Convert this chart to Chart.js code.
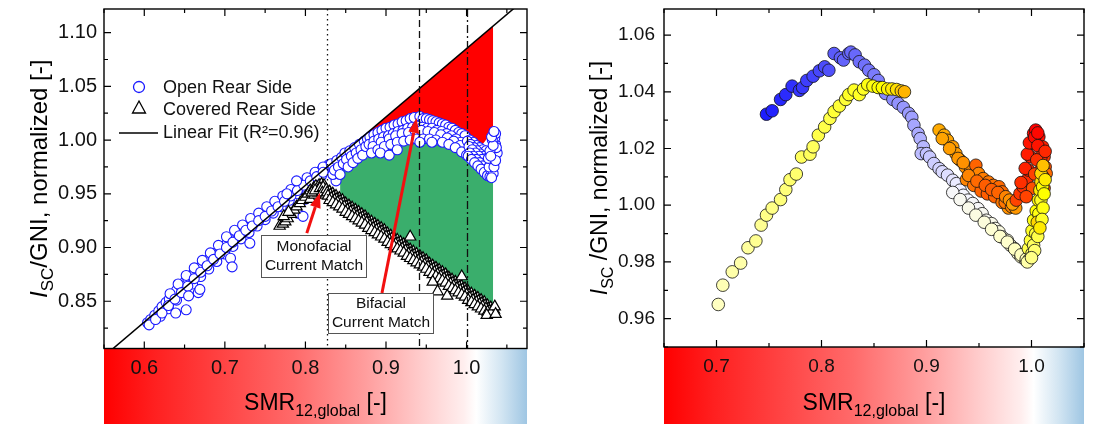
<!DOCTYPE html>
<html>
<head>
<meta charset="utf-8">
<script src="https://cdn.jsdelivr.net/npm/chart.js@4.4.1/dist/chart.umd.min.js"></script>
<style>
  html, body { margin: 0; padding: 0; background: #fff; }
  #wrap { position: relative; width: 1094px; height: 424px; }
  #c1 { position: absolute; left: 0; top: 0; }
  #c2 { position: absolute; left: 547px; top: 0; }
</style>
</head>
<body>
<div id="wrap">
  <canvas id="c1" width="547" height="424"></canvas>
  <canvas id="c2" width="547" height="424"></canvas>
</div>
<script>
// ---- left panel data ----
const leftXTicks = [0.6, 0.7, 0.8, 0.9, 1.0];
const leftYTicks = [0.85, 0.90, 0.95, 1.00, 1.05, 1.10];

const openRear = [
  [0.604,0.830],[0.608,0.833],[0.613,0.837],[0.618,0.841],[0.622,0.845],[0.627,0.849],[0.631,0.852],[0.636,0.856],
  [0.640,0.860],[0.645,0.864],[0.649,0.867],[0.654,0.871],[0.658,0.874],[0.662,0.877],[0.667,0.880],[0.671,0.883],
  [0.676,0.886],[0.680,0.889],[0.685,0.892],[0.689,0.895],[0.694,0.898],[0.698,0.901],[0.703,0.904],[0.707,0.907],
  [0.712,0.910],[0.716,0.912],[0.721,0.915],[0.725,0.918],[0.730,0.921],[0.734,0.923],[0.739,0.926],[0.743,0.928],
  [0.748,0.931],[0.752,0.933],[0.757,0.936],[0.761,0.939],[0.766,0.941],[0.770,0.944],[0.775,0.946],[0.779,0.949],
  [0.784,0.952],[0.788,0.954],[0.793,0.957],[0.797,0.959],[0.802,0.962],[0.806,0.964],[0.811,0.967],[0.815,0.969],
  [0.820,0.972],[0.824,0.974],[0.829,0.977],
  [0.620,0.836],[0.630,0.843],[0.640,0.851],[0.650,0.858],[0.660,0.866],[0.670,0.873],[0.680,0.880],[0.690,0.887],
  [0.700,0.894],[0.710,0.901],[0.720,0.908],[0.730,0.914],[0.740,0.920],[0.750,0.926],[0.760,0.932],[0.770,0.938],
  [0.780,0.944],[0.790,0.950],[0.800,0.956],[0.810,0.961],[0.820,0.967],
  [0.632,0.857],[0.642,0.866],[0.652,0.874],[0.662,0.881],[0.672,0.888],[0.682,0.895],[0.692,0.902],[0.702,0.910],
  [0.712,0.916],[0.722,0.921],[0.732,0.927],[0.742,0.932],[0.752,0.938],[0.762,0.943],[0.772,0.948],[0.782,0.954],
  [0.792,0.960],[0.802,0.965],[0.812,0.970],[0.822,0.975],
  [0.606,0.828],[0.614,0.833],[0.622,0.839],[0.630,0.846],[0.638,0.852],[0.646,0.858],[0.654,0.864],[0.662,0.871],
  [0.670,0.877],[0.678,0.883],[0.686,0.889],[0.694,0.894],[0.702,0.900],[0.710,0.905],[0.718,0.911],[0.726,0.916],
  [0.734,0.920],[0.742,0.925],[0.750,0.929],[0.758,0.934],[0.766,0.938],[0.774,0.943],[0.782,0.948],[0.790,0.953],
  [0.798,0.958],[0.806,0.962],[0.814,0.966],[0.822,0.970],
  [0.639,0.839],[0.652,0.842],[0.655,0.855],[0.667,0.858],[0.669,0.861],[0.707,0.890],[0.709,0.882],[0.731,0.904],
  [0.777,0.950],[0.789,0.962],[0.790,0.932],[0.797,0.929],[0.838,0.962],[0.815,0.958],[0.800,0.945],
  [0.832,0.978],[0.834,0.968],[0.836,0.972],[0.839,0.981],[0.841,0.975],[0.843,0.968],[0.845,0.984],[0.847,0.978],
  [0.849,0.988],[0.851,0.982],[0.853,0.975],[0.855,0.990],[0.857,0.985],[0.859,0.979],[0.861,0.993],[0.863,0.988],
  [0.865,0.983],[0.867,0.996],[0.869,0.991],[0.871,0.986],[0.873,0.999],[0.875,0.994],
  [0.877,1.001],[0.882,1.003],[0.887,1.005],[0.892,1.007],[0.897,1.008],[0.902,1.010],[0.907,1.012],[0.912,1.013],
  [0.917,1.014],[0.922,1.016],[0.927,1.017],[0.932,1.019],[0.937,1.020],[0.940,1.021],[0.944,1.018],[0.948,1.018],
  [0.952,1.017],[0.956,1.017],[0.960,1.016],[0.964,1.015],[0.968,1.014],[0.972,1.013],[0.976,1.011],[0.980,1.010],
  [0.984,1.008],[0.988,1.006],[0.992,1.005],[0.996,1.004],[1.000,1.002],
  [0.880,1.003],[0.885,1.005],[0.890,1.007],[0.895,1.009],[0.900,1.011],[0.905,1.012],[0.910,1.014],[0.915,1.015],
  [0.920,1.017],[0.925,1.018],[0.930,1.020],[0.935,1.021],[0.942,1.022],[0.946,1.020],[0.950,1.020],[0.954,1.019],
  [0.958,1.018],[0.962,1.017],[0.966,1.016],[0.970,1.015],[0.974,1.014],[0.978,1.012],[0.982,1.011],[0.986,1.009],
  [0.990,1.007],[0.994,1.006],[0.998,1.004],
  [0.879,0.996],[0.885,0.999],[0.891,1.001],[0.897,1.003],[0.903,1.004],[0.909,1.006],[0.915,1.008],[0.921,1.009],
  [0.927,1.011],[0.933,1.012],[0.939,1.013],[0.945,1.012],[0.951,1.011],[0.957,1.011],[0.963,1.009],[0.969,1.008],
  [0.975,1.006],[0.981,1.004],[0.987,1.001],[0.993,0.998],[0.999,0.995],
  [0.884,0.994],[0.894,0.998],[0.904,1.001],[0.912,1.004],[0.920,1.006],[0.928,1.007],[0.936,1.009],[0.944,1.009],
  [0.952,1.008],[0.960,1.007],[0.968,1.005],[0.976,1.002],[0.984,0.999],[0.992,0.995],
  [0.882,0.988],[0.890,0.991],[0.898,0.994],[0.906,0.996],[0.914,0.998],[0.922,0.999],[0.930,1.000],[0.938,1.001],
  [0.946,1.001],[0.954,1.001],[0.962,1.000],[0.970,0.998],[0.978,0.996],[0.986,0.993],[0.994,0.989],[1.000,0.986],
  [0.893,0.988],[0.904,0.986],[0.914,0.991],[0.942,0.998],[0.957,0.998],
  [1.004,1.000],[1.008,0.998],[1.012,0.995],[1.016,0.993],[1.020,0.991],[1.024,0.990],
  [1.001,0.999],[1.005,0.996],[1.009,0.993],[1.013,0.990],[1.017,0.987],[1.021,0.985],[1.025,0.983],
  [1.003,0.994],[1.007,0.991],[1.011,0.988],[1.015,0.985],[1.019,0.982],[1.023,0.979],
  [1.004,0.988],[1.008,0.985],[1.012,0.982],[1.016,0.979],[1.020,0.976],[1.024,0.973],[1.028,0.970],
  [1.002,0.985],[1.006,0.982],[1.010,0.979],[1.014,0.976],[1.018,0.973],[1.022,0.970],[1.026,0.967],[1.029,0.966],
  [1.030,0.972],[1.032,0.978],[1.034,0.984],[1.035,0.990],[1.036,0.996],[1.035,1.002],[1.036,1.006],[1.033,0.969],
  [1.031,0.965],[1.038,0.988],[1.037,0.993],[1.032,1.000],[1.028,0.975],[1.027,0.983],[1.029,0.990],
  [1.034,0.975],[1.036,0.981],[1.033,0.995],[1.031,1.003],[1.034,1.008],[1.030,0.985]
];

const coveredRear = [
  [0.768,0.920],[0.772,0.922],[0.775,0.924],[0.778,0.927],[0.782,0.931],[0.786,0.935],[0.789,0.938],[0.793,0.941],
  [0.796,0.944],[0.800,0.947],[0.803,0.950],[0.806,0.953],[0.810,0.955],[0.813,0.957],[0.817,0.958],[0.820,0.959],
  [0.823,0.958],[0.773,0.929],[0.779,0.933],[0.806,0.945],[0.811,0.949],[0.816,0.951],
  [0.808,0.951],[0.812,0.953],[0.818,0.955],[0.822,0.956],[0.821,0.951],[0.825,0.949],
  [0.826,0.954],[0.830,0.952],[0.834,0.950],[0.838,0.948],[0.842,0.946],[0.846,0.944],[0.850,0.941],[0.854,0.939],
  [0.858,0.937],[0.862,0.935],[0.866,0.933],[0.870,0.931],[0.874,0.929],[0.878,0.926],[0.882,0.924],[0.886,0.922],
  [0.890,0.920],[0.894,0.918],[0.898,0.916],[0.902,0.913],[0.906,0.911],[0.910,0.909],[0.914,0.907],[0.918,0.905],
  [0.922,0.903],[0.926,0.900],[0.930,0.898],[0.934,0.896],[0.938,0.894],[0.942,0.892],[0.946,0.890],[0.950,0.888],
  [0.954,0.885],[0.958,0.883],[0.962,0.881],[0.966,0.879],[0.970,0.877],[0.974,0.875],[0.978,0.872],[0.982,0.870],
  [0.986,0.868],[0.990,0.866],[0.994,0.864],[0.998,0.862],[1.002,0.859],[1.006,0.857],[1.010,0.855],[1.014,0.853],
  [1.018,0.851],[1.022,0.849],[1.026,0.846],[1.030,0.844],[1.034,0.842],
  [0.827,0.951],[0.831,0.949],[0.835,0.947],[0.839,0.945],[0.843,0.943],[0.847,0.941],[0.851,0.938],[0.855,0.936],
  [0.859,0.934],[0.863,0.932],[0.867,0.930],[0.871,0.928],[0.875,0.926],[0.879,0.923],[0.883,0.921],[0.887,0.919],
  [0.891,0.917],[0.895,0.915],[0.899,0.913],[0.903,0.910],[0.907,0.908],[0.911,0.906],[0.915,0.904],[0.919,0.902],
  [0.923,0.900],[0.927,0.897],[0.931,0.895],[0.935,0.893],[0.939,0.891],[0.943,0.889],[0.947,0.887],[0.951,0.885],
  [0.955,0.882],[0.959,0.880],[0.963,0.878],[0.967,0.876],[0.971,0.874],[0.975,0.872],[0.979,0.869],[0.983,0.867],
  [0.987,0.865],[0.991,0.863],[0.995,0.861],[0.999,0.859],[1.003,0.856],[1.007,0.854],[1.011,0.852],[1.015,0.850],
  [1.019,0.848],[1.023,0.846],[1.027,0.843],[1.031,0.841],
  [0.828,0.948],[0.832,0.946],[0.836,0.944],[0.840,0.942],[0.844,0.940],[0.848,0.938],[0.852,0.935],[0.856,0.933],
  [0.860,0.931],[0.864,0.929],[0.868,0.927],[0.872,0.925],[0.876,0.923],[0.880,0.920],[0.884,0.918],[0.888,0.916],
  [0.892,0.914],[0.896,0.912],[0.900,0.910],[0.904,0.907],[0.908,0.905],[0.912,0.903],[0.916,0.901],[0.920,0.899],
  [0.924,0.897],[0.928,0.894],[0.932,0.892],[0.936,0.890],[0.940,0.888],[0.944,0.886],[0.948,0.884],[0.952,0.882],
  [0.956,0.879],[0.960,0.877],[0.964,0.875],[0.968,0.873],[0.972,0.871],[0.976,0.869],[0.980,0.866],[0.984,0.864],
  [0.988,0.862],[0.992,0.860],[0.996,0.858],[1.000,0.856],[1.004,0.853],[1.008,0.851],[1.012,0.849],[1.016,0.847],
  [1.020,0.845],[1.024,0.843],[1.028,0.841],[1.032,0.839],
  [0.830,0.944],[0.834,0.942],[0.838,0.940],[0.842,0.938],[0.846,0.936],[0.850,0.933],[0.854,0.931],[0.858,0.929],
  [0.862,0.927],[0.866,0.925],[0.870,0.923],[0.874,0.921],[0.878,0.918],[0.882,0.916],[0.886,0.914],[0.890,0.912],
  [0.894,0.910],[0.898,0.908],[0.902,0.905],[0.906,0.903],[0.910,0.901],[0.914,0.899],[0.918,0.897],[0.922,0.895],
  [0.926,0.892],[0.930,0.890],[0.934,0.888],[0.938,0.886],[0.942,0.884],[0.946,0.882],[0.950,0.880],[0.954,0.877],
  [0.958,0.875],[0.962,0.873],[0.966,0.871],[0.970,0.869],[0.974,0.867],[0.978,0.864],[0.982,0.862],[0.986,0.860],
  [0.990,0.858],[0.994,0.856],[0.998,0.854],[1.002,0.851],[1.006,0.849],[1.010,0.847],[1.014,0.845],[1.018,0.843],
  [1.022,0.841],[1.026,0.840],[1.030,0.839],
  [0.930,0.910],[0.958,0.868],[0.964,0.859],[0.976,0.855],[0.994,0.873],[1.025,0.837],[1.035,0.845],[1.036,0.838]
];

const fitLine = [[0.55, 0.7988], [1.075, 1.1329]];

// boundaries of the shaded regions
const redX = [0.872, 0.89, 0.91, 0.93, 0.94, 0.95, 0.97, 0.99, 1.00, 1.01, 1.02, 1.028, 1.033];
const redLow = [1.004, 1.010, 1.016, 1.022, 1.024, 1.022, 1.018, 1.011, 1.006, 1.000, 0.996, 1.004, 1.010];
const greenX = [0.843, 0.86, 0.88, 0.90, 0.92, 0.94, 0.96, 0.98, 1.00, 1.01, 1.02, 1.033];
const greenHigh = [0.972, 0.978, 0.985, 0.992, 0.996, 0.998, 0.997, 0.993, 0.983, 0.975, 0.968, 0.962];
const greenLow = [0.950, 0.941, 0.930, 0.920, 0.908, 0.898, 0.887, 0.876, 0.865, 0.859, 0.854, 0.848];

const refLines = [0.827, 0.941, 1.0];

// ---- right panel data: [SMR, Isc/GNI, colour tone] ----
const rightXTicks = [0.7, 0.8, 0.9, 1.0];
const rightYTicks = [0.96, 0.98, 1.00, 1.02, 1.04, 1.06];
const rightPoints = [
  [0.7476,1.0321,0.02],[0.753,1.0333,0.03],[0.761,1.0373,0.04],[0.766,1.039,0.05],[0.772,1.042,0.06],[0.779,1.0405,0.07],
  [0.782,1.0415,0.08],[0.786,1.044,0.09],[0.792,1.0455,0.10],[0.798,1.0474,0.11],[0.803,1.0488,0.12],[0.807,1.0476,0.13],
  [0.812,1.0535,0.15],[0.818,1.052,0.16],[0.821,1.0512,0.17],[0.826,1.0535,0.17],[0.828,1.054,0.18],[0.832,1.053,0.18],
  [0.836,1.0506,0.19],[0.841,1.0494,0.20],[0.845,1.0476,0.21],[0.850,1.046,0.22],[0.854,1.044,0.23],[0.856,1.0415,0.24],
  [0.861,1.0394,0.25],[0.868,1.0373,0.26],[0.873,1.0359,0.27],[0.878,1.0345,0.28],[0.883,1.0324,0.29],[0.886,1.031,0.30],
  [0.888,1.0282,0.31],[0.892,1.0253,0.32],[0.894,1.0235,0.33],[0.897,1.0206,0.34],[0.895,1.0182,0.35],[0.900,1.0182,0.36],
  [0.903,1.017,0.37],[0.907,1.0147,0.38],[0.912,1.0129,0.39],[0.915,1.0118,0.40],[0.920,1.0106,0.41],[0.925,1.0088,0.42],
  [0.9285,1.0076,0.43],[0.932,1.0053,0.44],[0.935,1.0035,0.45],[0.9395,1.0018,0.45],[0.944,1.0006,0.46],[0.949,0.9988,0.46],
  [0.953,0.997,0.47],[0.957,0.9947,0.47],[0.962,0.9935,0.48],[0.9655,0.9918,0.48],[0.969,0.9906,0.49],[0.972,0.9888,0.49],
  [0.977,0.9876,0.50],[0.980,0.9859,0.50],[0.9838,0.9847,0.51],[0.987,0.983,0.51],[0.990,0.9818,0.52],[0.994,0.9808,0.52],
  [0.925,1.0045,0.46],[0.932,1.002,0.47],[0.940,0.999,0.48],[0.947,0.9965,0.49],[0.955,0.994,0.50],[0.962,0.9915,0.51],
  [0.970,0.989,0.52],[0.977,0.987,0.52],[0.984,0.9845,0.53],[0.990,0.9825,0.53],[0.995,0.981,0.54],
  [0.7017,0.965,0.53],[0.706,0.9718,0.54],[0.715,0.9765,0.55],[0.723,0.9796,0.55],[0.730,0.985,0.56],[0.7375,0.9874,0.57],
  [0.7425,0.993,0.57],[0.7476,0.9965,0.58],[0.753,0.999,0.58],[0.761,1.002,0.59],[0.766,1.0055,0.59],[0.770,1.009,0.60],
  [0.776,1.011,0.60],[0.781,1.017,0.61],[0.789,1.018,0.61],[0.792,1.0206,0.61],[0.797,1.0247,0.62],[0.803,1.0276,0.62],
  [0.808,1.0306,0.62],[0.812,1.033,0.63],[0.817,1.035,0.63],[0.823,1.0373,0.63],[0.826,1.039,0.64],[0.831,1.0406,0.64],
  [0.836,1.039,0.64],[0.840,1.041,0.64],[0.844,1.0425,0.65],[0.849,1.042,0.65],[0.854,1.0415,0.66],[0.858,1.0415,0.66],
  [0.863,1.041,0.67],[0.867,1.041,0.68],[0.8715,1.0408,0.69],[0.876,1.0403,0.71],[0.879,1.040,0.73],
  [0.912,1.0265,0.74],[0.9168,1.0247,0.74],[0.920,1.0229,0.75],[0.925,1.0206,0.76],[0.928,1.0182,0.76],[0.932,1.0159,0.77],
  [0.937,1.0135,0.78],[0.942,1.0124,0.79],[0.947,1.0141,0.85],[0.9496,1.0112,0.80],[0.954,1.0094,0.81],[0.959,1.0082,0.82],
  [0.9637,1.007,0.83],[0.969,1.0065,0.84],[0.972,1.0047,0.84],[0.938,1.009,0.80],[0.945,1.007,0.83],[0.952,1.005,0.85],
  [0.958,1.004,0.86],[0.965,1.003,0.85],[0.972,1.001,0.82],[0.978,0.999,0.78],
  [0.915,1.0235,0.75],[0.922,1.0200,0.76],[0.930,1.0165,0.77],[0.935,1.0150,0.78],[0.940,1.0105,0.80],[0.948,1.0085,0.84],
  [0.956,1.0070,0.86],[0.962,1.0055,0.86],[0.968,1.0045,0.85],[0.975,1.0010,0.82],[0.981,0.9995,0.80],[0.985,0.9990,0.77],
  [0.9754,1.003,0.80],[0.979,1.0018,0.78],
  [0.982,1.0004,0.76],[0.9855,1.0018,0.90],[0.989,1.0041,0.92],[0.992,1.0065,0.93],[0.9955,1.0088,0.94],[0.997,1.0124,0.95],
  [0.999,1.0171,0.96],[1.0005,1.0218,0.97],[1.002,1.0253,0.99],[1.004,1.0265,1.00],[1.007,1.0241,0.98],[1.0106,1.0206,0.95],
  [1.012,1.0171,0.92],[1.013,1.0135,0.88],[1.014,1.0112,0.84],
  [0.990,1.008,0.93],[0.994,1.013,0.95],[0.996,1.018,0.96],[0.998,1.022,0.97],[1.003,1.024,0.99],[1.006,1.021,0.97],
  [1.009,1.017,0.94],[1.011,1.010,0.90],[1.012,1.006,0.86],[1.008,1.012,0.92],[1.005,1.016,0.93],[1.003,1.011,0.90],
  [1.001,1.006,0.88],[0.995,1.003,0.90],[1.013,1.019,0.94],[1.006,1.0255,0.99],
  [0.997,0.9847,0.62],[0.999,0.9876,0.63],[1.0005,0.991,0.64],[1.002,0.9947,0.65],[1.0045,0.998,0.66],[1.0065,1.0018,0.67],
  [1.008,1.0053,0.68],[1.009,1.0082,0.69],[1.009,1.0112,0.70],[1.011,1.014,0.72],
  [1.0106,1.0065,0.66],[1.009,1.0018,0.64],[1.007,0.997,0.65],[1.0055,0.994,0.70],[1.004,0.990,0.63],[1.002,0.9859,0.61],
  [1.0005,0.983,0.60],[0.998,0.981,0.57],[0.996,0.980,0.55],
  [1.012,1.004,0.66],[1.011,0.999,0.65],[1.010,0.995,0.64],[1.006,0.989,0.62],[1.003,0.984,0.60],[1.000,0.9815,0.58],
  [1.008,0.992,0.68],[1.013,1.009,0.68]
];

const FONT = '"Liberation Sans", Arial, Helvetica, sans-serif';

// colour scale for the right panel tone value
const toneStops = [
  [0.00, [20, 20, 255]], [0.15, [90, 90, 250]], [0.30, [160, 160, 255]], [0.45, [245, 245, 255]],
  [0.52, [255, 255, 205]], [0.60, [255, 255, 110]], [0.66, [255, 255, 0]], [0.74, [255, 170, 0]],
  [0.85, [255, 100, 0]], [1.00, [255, 0, 0]]
];
function toneColor(t) {
  for (let i = 1; i < toneStops.length; i++) {
    const [t1, c1] = toneStops[i];
    const [t0, c0] = toneStops[i - 1];
    if (t <= t1) {
      const f = (t - t0) / (t1 - t0);
      const c = c0.map((v, k) => Math.round(v + (c1[k] - v) * f));
      return `rgb(${c[0]},${c[1]},${c[2]})`;
    }
  }
  return 'rgb(255,0,0)';
}

const toXY = arr => arr.map(p => ({ x: p[0], y: p[1] }));
const zipXY = (xs, ys) => xs.map((x, i) => ({ x, y: ys[i] }));

// ---- drawing helpers ----
function drawBand(chart) {
  const { ctx, chartArea: a } = chart;
  const g = ctx.createLinearGradient(a.left, 0, a.right, 0);
  g.addColorStop(0, '#ff0000');
  g.addColorStop(0.12, '#ff2020');
  g.addColorStop(0.30, '#ff4848');
  g.addColorStop(0.45, '#ff6a6a');
  g.addColorStop(0.62, '#ff9e9e');
  g.addColorStop(0.75, '#ffcccc');
  g.addColorStop(0.85, '#ffeeee');
  g.addColorStop(0.88, '#ffffff');
  g.addColorStop(0.94, '#d2e5f2');
  g.addColorStop(1, '#9fc6e3');
  ctx.save();
  ctx.fillStyle = g;
  ctx.fillRect(a.left, a.bottom, a.right - a.left, chart.height - a.bottom);
  ctx.restore();
}

function drawFrame(chart, xMinor, xMajor, yMinor, yMajor) {
  const { ctx, chartArea: a, scales: { x, y } } = chart;
  const each = (s, minor, major, fn) => {
    const k0 = Math.ceil(s.min / minor - 1e-9), k1 = Math.floor(s.max / minor + 1e-9);
    for (let k = k0; k <= k1; k++) {
      const v = k * minor;
      const isMajor = Math.abs(v / major - Math.round(v / major)) < 1e-6;
      fn(s.getPixelForValue(v), isMajor ? 7 : 4);
    }
  };
  ctx.save();
  ctx.strokeStyle = '#000';
  ctx.lineWidth = 1.2;
  ctx.beginPath();
  each(x, xMinor, xMajor, (p, len) => {
    ctx.moveTo(p, a.bottom); ctx.lineTo(p, a.bottom - len);
    ctx.moveTo(p, a.top); ctx.lineTo(p, a.top + len);
  });
  each(y, yMinor, yMajor, (p, len) => {
    ctx.moveTo(a.left, p); ctx.lineTo(a.left + len, p);
    ctx.moveTo(a.right, p); ctx.lineTo(a.right - len, p);
  });
  ctx.stroke();
  ctx.lineWidth = 1.4;
  ctx.strokeRect(a.left, a.top, a.right - a.left, a.bottom - a.top);
  ctx.restore();
}

// text made of pieces (subscripts, italics), centred on x
function richText(ctx, parts, cx, baseY) {
  const fontOf = p => `${p.italic ? 'italic ' : ''}${p.size}px ${FONT}`;
  let w = 0;
  for (const p of parts) { ctx.font = fontOf(p); w += ctx.measureText(p.t).width; }
  let x = cx - w / 2;
  ctx.textAlign = 'left';
  ctx.textBaseline = 'alphabetic';
  for (const p of parts) {
    ctx.font = fontOf(p);
    ctx.fillText(p.t, x, baseY + (p.dy || 0));
    x += ctx.measureText(p.t).width;
  }
}

function drawTitles(chart, xParts, yParts, xBase, yBase) {
  const { ctx, chartArea: a } = chart;
  ctx.save();
  ctx.fillStyle = '#000';
  richText(ctx, xParts, (a.left + a.right) / 2, xBase);
  ctx.translate(yBase, (a.top + a.bottom) / 2);
  ctx.rotate(-Math.PI / 2);
  richText(ctx, yParts, 0, 0);
  ctx.restore();
}

function drawArrow(ctx, x1, y1, x2, y2) {
  const ang = Math.atan2(y2 - y1, x2 - x1);
  const hl = 15, hw = 5.5;
  const c = Math.cos(ang), s = Math.sin(ang);
  ctx.strokeStyle = ctx.fillStyle = '#f21010';
  ctx.lineWidth = 3;
  ctx.beginPath();
  ctx.moveTo(x1, y1);
  ctx.lineTo(x2 - hl * c, y2 - hl * s);
  ctx.stroke();
  ctx.beginPath();
  ctx.moveTo(x2, y2);
  ctx.lineTo(x2 - hl * c + hw * s, y2 - hl * s - hw * c);
  ctx.lineTo(x2 - hl * c - hw * s, y2 - hl * s + hw * c);
  ctx.closePath();
  ctx.fill();
}

function drawBox(ctx, xs, ys, b) {
  const l = Math.round(xs.getPixelForValue(b.x0)) + 0.5, r = Math.round(xs.getPixelForValue(b.x1)) + 0.5;
  const t = Math.round(ys.getPixelForValue(b.y1)) + 0.5, btm = Math.round(ys.getPixelForValue(b.y0)) + 0.5;
  ctx.fillStyle = '#fff';
  ctx.fillRect(l, t, r - l, btm - t);
  ctx.strokeStyle = '#555';
  ctx.lineWidth = 1;
  ctx.strokeRect(l, t, r - l, btm - t);
  ctx.fillStyle = '#111';
  ctx.font = `15.5px ${FONT}`;
  ctx.textAlign = 'center';
  ctx.textBaseline = 'middle';
  const cy = (t + btm) / 2;
  ctx.fillText(b.lines[0], (l + r) / 2, cy - 9.5);
  ctx.fillText(b.lines[1], (l + r) / 2, cy + 9.5);
}

const xTitle = [{ t: 'SMR', size: 23 }, { t: '12,global', size: 16, dy: 6 }, { t: ' [-]', size: 23 }];

const leftPanel = {
  id: 'leftPanel',
  beforeDraw(chart) { drawBand(chart); },
  afterDatasetsDraw(chart) {
    const { ctx, chartArea: a, scales: { x, y } } = chart;
    ctx.save();
    ctx.strokeStyle = '#111';
    ctx.lineWidth = 1.3;
    const dashes = [[1.5, 3.5], [7, 4], [8, 3, 2, 3]];
    refLines.forEach((v, i) => {
      const px = Math.round(x.getPixelForValue(v)) + 0.5;
      ctx.setLineDash(dashes[i]);
      ctx.beginPath(); ctx.moveTo(px, a.top); ctx.lineTo(px, a.bottom); ctx.stroke();
    });
    ctx.setLineDash([]);

    // arrows then labelled boxes
    drawArrow(ctx, x.getPixelForValue(0.8017), y.getPixelForValue(0.9134), x.getPixelForValue(0.818), y.getPixelForValue(0.951));
    drawArrow(ctx, x.getPixelForValue(0.895), y.getPixelForValue(0.8577), x.getPixelForValue(0.938), y.getPixelForValue(1.0206));
    drawBox(ctx, x, y, { x0: 0.7444, x1: 0.8747, y0: 0.8727, y1: 0.9116, lines: ['Monofacial', 'Current Match'] });
    drawBox(ctx, x, y, { x0: 0.8275, x1: 0.9586, y0: 0.8208, y1: 0.858, lines: ['Bifacial', 'Current Match'] });

    // legend
    const ds = chart.data.datasets;
    ctx.font = `18px ${FONT}`;
    ctx.textAlign = 'left';
    ctx.textBaseline = 'middle';
    ctx.fillStyle = '#111';
    ctx.strokeStyle = ds[0].borderColor;
    ctx.lineWidth = 1.3;
    ctx.beginPath(); ctx.arc(139, 87, 5.5, 0, Math.PI * 2); ctx.stroke();
    ctx.fillText(ds[0].label, 163, 88);
    ctx.strokeStyle = '#000';
    ctx.beginPath();
    ctx.moveTo(139, 101); ctx.lineTo(145.5, 113); ctx.lineTo(132.5, 113); ctx.closePath(); ctx.stroke();
    ctx.fillText(ds[1].label, 163, 110);
    ctx.lineWidth = 1.5;
    ctx.beginPath(); ctx.moveTo(119, 133); ctx.lineTo(158, 133); ctx.stroke();
    ctx.fillText(ds[2].label, 163, 133);
    ctx.restore();

    drawFrame(chart, 0.05, 0.1, 0.025, 0.05);
  },
  afterDraw(chart) {
    drawTitles(chart, xTitle,
      [{ t: 'I', size: 24, italic: true }, { t: 'SC', size: 17, dy: 6 }, { t: '/GNI, normalized [-]', size: 24 }],
      410, 47);
  }
};

const rightPanel = {
  id: 'rightPanel',
  beforeDraw(chart) { drawBand(chart); },
  afterDatasetsDraw(chart) { drawFrame(chart, 0.05, 0.1, 0.01, 0.02); },
  afterDraw(chart) {
    drawTitles(chart, xTitle,
      [{ t: 'I', size: 23, italic: true }, { t: 'SC', size: 16, dy: 6 }, { t: ' /GNI, normalized [-]', size: 23 }],
      410, 60);
  }
};

function axis(min, max, ticks, digits, size, pad, fit) {
  return {
    type: 'linear', min, max,
    grid: { display: false, drawTicks: false },
    border: { display: false },
    ticks: { font: { family: FONT, size }, color: '#111', padding: pad, callback: v => Number(v).toFixed(digits) },
    afterBuildTicks: s => { s.ticks = ticks.map(v => ({ value: v })); },
    afterFit: s => { fit(s); s.paddingTop = 0; s.paddingBottom = 0; s.paddingLeft = 0; s.paddingRight = 0; }
  };
}

const common = {
  responsive: false,
  animation: false,
  events: [],
  plugins: { legend: { display: false }, tooltip: { enabled: false } }
};

new Chart(document.getElementById('c1'), {
  type: 'line',
  data: {
    datasets: [
      { label: 'Open Rear Side', data: toXY(openRear), showLine: false, pointStyle: 'circle', pointRadius: 5,
        borderColor: '#1a1aff', backgroundColor: '#fff', pointBorderWidth: 1.1, order: 3 },
      { label: 'Covered Rear Side', data: toXY(coveredRear), showLine: false, pointStyle: 'triangle', pointRadius: 6.5,
        borderColor: '#000', backgroundColor: '#fff', pointBorderWidth: 1.2, order: 2 },
      { label: 'Linear Fit (R\u00b2=0.96)', data: toXY(fitLine), borderColor: '#000', borderWidth: 1.5, pointRadius: 0, order: 1 },
      { label: 'red', data: zipXY(redX, redLow), borderColor: 'transparent', borderWidth: 0, pointRadius: 0,
        fill: 2, backgroundColor: '#ff0000', order: 10 },
      { label: 'greenTop', data: zipXY(greenX, greenHigh), borderColor: 'transparent', borderWidth: 0, pointRadius: 0,
        fill: 5, backgroundColor: '#3aae6c', order: 9 },
      { label: 'greenLow', data: zipXY(greenX, greenLow), borderColor: 'transparent', borderWidth: 0, pointRadius: 0,
        fill: false, order: 8 }
    ]
  },
  options: {
    ...common,
    layout: { padding: { left: 0, right: 20, top: 9, bottom: 0 } },
    scales: {
      x: axis(0.55, 1.075, leftXTicks, 1, 20, 8, s => { s.height = 75.5; }),
      y: axis(0.806, 1.122, leftYTicks, 2, 20, 7, s => { s.width = 104; })
    }
  },
  plugins: [leftPanel]
});

new Chart(document.getElementById('c2'), {
  type: 'line',
  data: {
    datasets: [
      { label: 'Isc', data: toXY(rightPoints), showLine: false, pointStyle: 'circle', pointRadius: 6.3,
        pointBackgroundColor: rightPoints.map(p => toneColor(p[2])), pointBorderColor: 'rgba(20,20,20,0.8)', pointBorderWidth: 1 }
    ]
  },
  options: {
    ...common,
    layout: { padding: { left: 0, right: 10, top: 9, bottom: 0 } },
    scales: {
      x: axis(0.65, 1.05, rightXTicks, 1, 19, 8, s => { s.height = 77; }),
      y: axis(0.95, 1.0692, rightYTicks, 2, 19, 9, s => { s.width = 117; })
    }
  },
  plugins: [rightPanel]
});
</script>
</body>
</html>
